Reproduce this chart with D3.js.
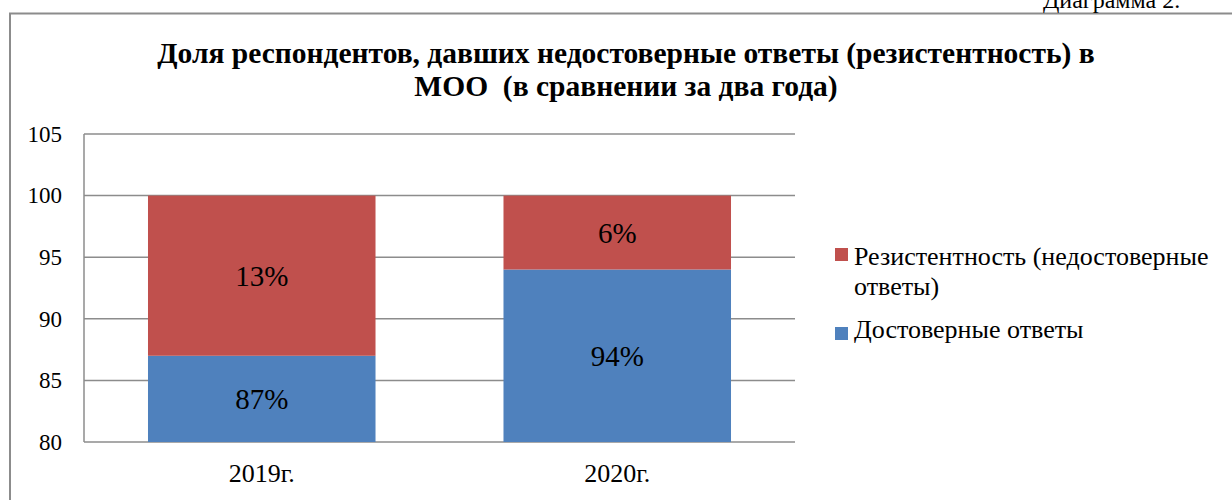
<!DOCTYPE html>
<html>
<head>
<meta charset="utf-8">
<script src="https://cdn.jsdelivr.net/npm/d3@7"></script>
</head>
<body style="margin:0; background:#fff">
<svg width="1232" height="500" style="font-family:'Liberation Serif'"></svg>
<script>
// data
var years = ["2019г.", "2020г."];
var valid = [87, 94];       // Достоверные ответы
var resist = [13, 6];       // Резистентность
var seriesNames = ["Резистентность (недостоверные ответы)", "Достоверные ответы"];
var yTicks = [80, 85, 90, 95, 100, 105];

var svg = d3.select("svg");
var gridColor = "#8c8c8c";

function serif(sel, size) {
  return sel.style("font-family", "'Liberation Serif'").style("font-size", size + "px");
}

// frame around the chart
svg.append("line").attr("x1", 9).attr("x2", 1232).attr("y1", 13.5).attr("y2", 13.5)
  .attr("stroke", gridColor).attr("stroke-width", 2);
svg.append("line").attr("x1", 10).attr("x2", 10).attr("y1", 13).attr("y2", 500)
  .attr("stroke", gridColor).attr("stroke-width", 2);

// caption at top right (cut off in the original too)
serif(svg.append("text").attr("x", 1043).attr("y", 8), 24).text("Диаграмма 2.");

// title
var title = serif(svg.append("text").attr("text-anchor", "middle"), 29.5).style("font-weight", "bold");
title.append("tspan").attr("x", 626).attr("y", 63).text("Доля респондентов, давших недостоверные ответы (резистентность) в");
title.append("tspan").attr("x", 626).attr("y", 96).style("white-space", "pre").text("МОО  (в сравнении за два года)");

var x = d3.scaleBand().domain(years).range([84, 795]).paddingInner(0.36).paddingOuter(0.18);
var y = d3.scaleLinear().domain([80, 105]).range([442, 134]);

// gridlines
svg.append("g").selectAll("line").data(yTicks).enter().append("line")
  .attr("x1", 84).attr("x2", 795)
  .attr("y1", function(d){ return y(d); }).attr("y2", function(d){ return y(d); })
  .attr("stroke", gridColor).attr("stroke-width", 1.5);

// y axis
svg.append("line").attr("x1", 84).attr("x2", 84).attr("y1", y(105)).attr("y2", y(80))
  .attr("stroke", gridColor).attr("stroke-width", 1.5);
var yAxis = svg.append("g").attr("transform", "translate(84,0)")
  .call(d3.axisLeft(y).tickValues(yTicks).tickSize(0).tickPadding(22));
yAxis.select(".domain").remove();
serif(yAxis.selectAll("text").attr("fill", "#000"), 23);

// x axis labels
var xAxis = svg.append("g").attr("transform", "translate(0,442)")
  .call(d3.axisBottom(x).tickSize(0).tickPadding(22));
xAxis.select(".domain").remove();
serif(xAxis.selectAll("text").attr("fill", "#000"), 26);

// stacked bars
var rows = years.map(function(yr, i){ return { year: yr, valid: valid[i], resist: resist[i] }; });

svg.append("g").selectAll("rect").data(rows).enter().append("rect")
  .attr("x", function(d){ return x(d.year); })
  .attr("width", x.bandwidth())
  .attr("y", function(d){ return y(d.valid); })
  .attr("height", function(d){ return y(80) - y(d.valid); })
  .attr("fill", "#4F81BD");

svg.append("g").selectAll("rect").data(rows).enter().append("rect")
  .attr("x", function(d){ return x(d.year); })
  .attr("width", x.bandwidth())
  .attr("y", function(d){ return y(d.valid + d.resist); })
  .attr("height", function(d){ return y(d.valid) - y(d.valid + d.resist); })
  .attr("fill", "#C0504D");

// value labels
serif(svg.append("g").selectAll("text").data(rows).enter().append("text")
  .attr("x", function(d){ return x(d.year) + x.bandwidth() / 2; })
  .attr("y", function(d){ return y((80 + d.valid) / 2); })
  .attr("dy", "0.35em").attr("text-anchor", "middle"), 29)
  .text(function(d){ return d.valid + "%"; });

serif(svg.append("g").selectAll("text").data(rows).enter().append("text")
  .attr("x", function(d){ return x(d.year) + x.bandwidth() / 2; })
  .attr("y", function(d){ return y(d.valid + d.resist / 2); })
  .attr("dy", "0.35em").attr("text-anchor", "middle"), 29)
  .text(function(d){ return d.resist + "%"; });

// legend
var legend = svg.append("g");
legend.append("rect").attr("x", 835).attr("y", 248).attr("width", 13).attr("height", 13).attr("fill", "#C0504D");
var lt = serif(legend.append("text"), 26);
lt.append("tspan").attr("x", 854).attr("y", 265).text("Резистентность (недостоверные");
lt.append("tspan").attr("x", 854).attr("y", 295).text("ответы)");
legend.append("rect").attr("x", 835).attr("y", 327).attr("width", 13).attr("height", 13).attr("fill", "#4F81BD");
serif(legend.append("text").attr("x", 854).attr("y", 338), 26).text(seriesNames[1]);
</script>
</body>
</html>
